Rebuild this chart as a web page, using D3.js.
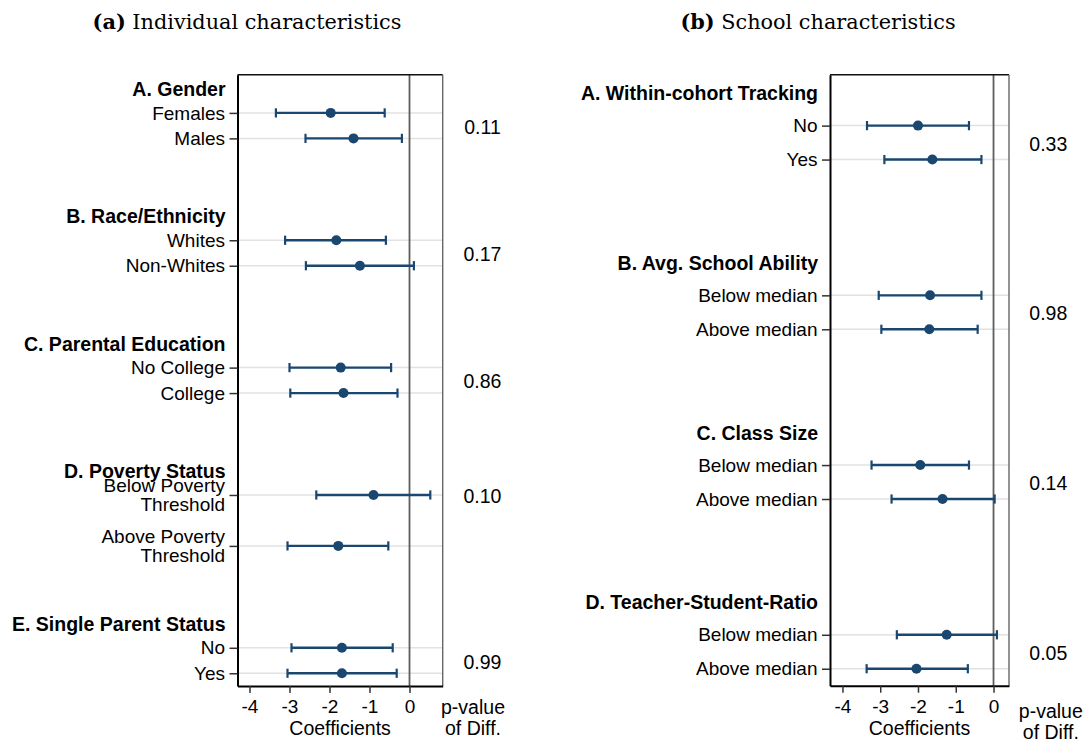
<!DOCTYPE html>
<html>
<head>
<meta charset="utf-8">
<script src="https://cdn.jsdelivr.net/npm/d3@7"></script>
<style>
  body { margin: 0; background: #fff; }
  text { font-family: "Liberation Sans", Arial, Helvetica, sans-serif; fill: #000; }
  text.title { font-family: "DejaVu Serif", Georgia, serif; }
</style>
</head>
<body>
<script>
// Panel (a): individual characteristics
const indGroups = ["A. Gender", "B. Race/Ethnicity", "C. Parental Education", "D. Poverty Status", "E. Single Parent Status"];
const indLabels = [
    ["Females", "Males"],
    ["Whites", "Non-Whites"],
    ["No College", "College"],
    ["Below Poverty\nThreshold", "Above Poverty\nThreshold"],
    ["No", "Yes"]
];
const indCoef = [[-1.97, -1.40], [-1.83, -1.24], [-1.72, -1.65], [-0.90, -1.78], [-1.69, -1.69]];
const indLow  = [[-3.34, -2.60], [-3.11, -2.59], [-3.00, -2.98], [-2.33, -3.05], [-2.95, -3.05]];
const indHigh = [[-0.62, -0.19], [-0.59, 0.11], [-0.46, -0.30], [0.52, -0.53], [-0.42, -0.32]];
const indPval = ["0.11", "0.17", "0.86", "0.10", "0.99"];

// Panel (b): school characteristics
const schGroups = ["A. Within-cohort Tracking", "B. Avg. School Ability", "C. Class Size", "D. Teacher-Student-Ratio"];
const schLabels = [
    ["No", "Yes"],
    ["Below median", "Above median"],
    ["Below median", "Above median"],
    ["Below median", "Above median"]
];
const schCoef = [[-2.00, -1.62], [-1.68, -1.70], [-1.94, -1.35], [-1.24, -2.04]];
const schLow  = [[-3.35, -2.89], [-3.04, -2.97], [-3.23, -2.70], [-2.56, -3.36]];
const schHigh = [[-0.65, -0.32], [-0.32, -0.42], [-0.65, 0.03], [0.09, -0.68]];
const schPval = ["0.33", "0.98", "0.14", "0.05"];

const xTicks = [-4, -3, -2, -1, 0];
const xTitle = "Coefficients";
const pHeader = ["p-value", "of Diff."];

const navy = "#1a476f";
const fontSize = 19.5;
const labelSize = 19;

const svg = d3.select("body").append("svg")
    .attr("width", 1090)
    .attr("height", 742);

function drawPanel(cfg) {
    const g = svg.append("g");

    // lay out rows: two-line labels get a double step, groups separated by 4
    const rows = [];
    const heads = [];
    let first = 1;
    cfg.groups.forEach((name, gi) => {
        const labs = cfg.labels[gi];
        const step = labs.some(l => l.includes("\n")) ? 2 : 1;
        labs.forEach((lab, i) => {
            rows.push({
                pos: first + i * step,
                label: lab,
                coef: cfg.coef[gi][i],
                lo: cfg.low[gi][i],
                hi: cfg.high[gi][i]
            });
        });
        heads.push({
            name: name,
            pos: first - 1,
            pval: cfg.pval[gi],
            ppos: step === 1 ? first + 0.5 : first
        });
        first = first + step * (labs.length - 1) + 4;
    });
    const lastPos = d3.max(rows, r => r.pos);

    const x = d3.scaleLinear().domain(cfg.xDomain).range([cfg.left, cfg.right]);
    const y = d3.scaleLinear().domain([-0.5, lastPos + 0.5]).range([cfg.top, cfg.bottom]);

    // grid lines
    g.selectAll(".grid")
        .data(rows)
        .enter().append("line")
        .attr("x1", cfg.left).attr("x2", cfg.right)
        .attr("y1", d => y(d.pos)).attr("y2", d => y(d.pos))
        .attr("stroke", "#e2e2e2")
        .attr("stroke-width", 1.5);

    // zero reference line
    g.append("line")
        .attr("x1", x(0)).attr("x2", x(0))
        .attr("y1", cfg.top).attr("y2", cfg.bottom)
        .attr("stroke", "#5e5e5e")
        .attr("stroke-width", 1.8);

    // top and right frame
    g.append("line")
        .attr("x1", cfg.left).attr("x2", cfg.right)
        .attr("y1", cfg.top).attr("y2", cfg.top)
        .attr("stroke", "#111").attr("stroke-width", 1.4);
    g.append("line")
        .attr("x1", cfg.right).attr("x2", cfg.right)
        .attr("y1", cfg.top).attr("y2", cfg.bottom)
        .attr("stroke", "#666").attr("stroke-width", 1.4);

    // x axis
    const xAxis = g.append("g")
        .attr("transform", `translate(0,${cfg.bottom})`)
        .call(d3.axisBottom(x)
            .tickValues(xTicks)
            .tickSize(7)
            .tickSizeOuter(0)
            .tickPadding(7)
            .tickFormat(d => String(d)));
    xAxis.select(".domain").attr("stroke", "#000").attr("stroke-width", 2);
    xAxis.selectAll(".tick line").attr("stroke", "#333").attr("stroke-width", 1.5);
    xAxis.selectAll(".tick text")
        .style("font-size", labelSize + "px")
        .style("font-family", "'Liberation Sans', Arial, sans-serif")
        .attr("fill", "#000");

    // y axis (ticks only, labels drawn below)
    const yAxis = g.append("g")
        .attr("transform", `translate(${cfg.left},0)`)
        .call(d3.axisLeft(y)
            .tickValues(rows.map(r => r.pos))
            .tickSize(8)
            .tickSizeOuter(0)
            .tickFormat(""));
    yAxis.select(".domain").attr("stroke", "#000").attr("stroke-width", 2);
    yAxis.selectAll(".tick line").attr("stroke", "#333").attr("stroke-width", 1.5);

    // row labels
    const labelX = cfg.left - 12.5;
    g.selectAll(".rowlab")
        .data(rows)
        .enter().append("text")
        .attr("text-anchor", "end")
        .style("font-size", labelSize + "px")
        .each(function(d) {
            const lines = d.label.split("\n");
            const t = d3.select(this);
            const gap = 19.6;
            lines.forEach((ln, i) => {
                t.append("tspan")
                    .attr("x", labelX)
                    .attr("y", y(d.pos) + (i - (lines.length - 1) / 2) * gap)
                    .attr("dy", "0.35em")
                    .text(ln);
            });
        });

    // group headings
    g.selectAll(".head")
        .data(heads)
        .enter().append("text")
        .attr("x", labelX + 0.5)
        .attr("y", d => y(d.pos) + 1.7)
        .attr("dy", "0.35em")
        .attr("text-anchor", "end")
        .style("font-size", fontSize + "px")
        .style("font-weight", "bold")
        .text(d => d.name);

    // p-values
    g.selectAll(".pval")
        .data(heads)
        .enter().append("text")
        .attr("x", cfg.pX)
        .attr("y", d => y(d.ppos) + 1.3)
        .attr("dy", "0.35em")
        .attr("text-anchor", "middle")
        .style("font-size", fontSize + "px")
        .text(d => d.pval);

    // confidence intervals
    g.selectAll(".ci")
        .data(rows)
        .enter().append("line")
        .attr("x1", d => x(d.lo)).attr("x2", d => x(d.hi))
        .attr("y1", d => y(d.pos)).attr("y2", d => y(d.pos))
        .attr("stroke", navy)
        .attr("stroke-width", 2.4);

    ["lo", "hi"].forEach(k => {
        g.selectAll(".cap-" + k)
            .data(rows)
            .enter().append("line")
            .attr("x1", d => x(d[k])).attr("x2", d => x(d[k]))
            .attr("y1", d => y(d.pos) - 4.6).attr("y2", d => y(d.pos) + 4.6)
            .attr("stroke", navy)
            .attr("stroke-width", 2.2);
    });

    g.selectAll(".dot")
        .data(rows)
        .enter().append("circle")
        .attr("cx", d => x(d.coef))
        .attr("cy", d => y(d.pos))
        .attr("r", 5)
        .attr("fill", navy);

    // axis title
    g.append("text")
        .attr("x", (cfg.left + cfg.right) / 2)
        .attr("y", cfg.bottom + 49)
        .attr("text-anchor", "middle")
        .style("font-size", fontSize + "px")
        .text(xTitle);

    // p-value header
    const ph = g.append("text")
        .attr("text-anchor", "middle")
        .style("font-size", fontSize + "px");
    pHeader.forEach((ln, i) => {
        ph.append("tspan")
            .attr("x", cfg.pHeadX)
            .attr("y", cfg.pHeadY + i * 20.5)
            .text(ln);
    });

    // panel title
    const t = svg.append("text")
        .attr("class", "title")
        .attr("x", cfg.titleX)
        .attr("y", 29)
        .attr("text-anchor", "middle")
        .style("font-size", "20.8px");
    t.append("tspan").style("font-weight", "bold").text(cfg.titleTag);
    t.append("tspan").text(" " + cfg.title);
}

drawPanel({
    groups: indGroups, labels: indLabels,
    coef: indCoef, low: indLow, high: indHigh, pval: indPval,
    xDomain: [-4.3, 0.83],
    left: 237.5, right: 442.7, top: 74.7, bottom: 686,
    pX: 482.5, pHeadX: 473, pHeadY: 714,
    titleX: 247, titleTag: "(a)", title: "Individual characteristics"
});

drawPanel({
    groups: schGroups, labels: schLabels,
    coef: schCoef, low: schLow, high: schHigh, pval: schPval,
    xDomain: [-4.33, 0.41],
    left: 830, right: 1009, top: 74.7, bottom: 685.7,
    pX: 1048.3, pHeadX: 1050.8, pHeadY: 718,
    titleX: 818, titleTag: "(b)", title: "School characteristics"
});
</script>
</body>
</html>
